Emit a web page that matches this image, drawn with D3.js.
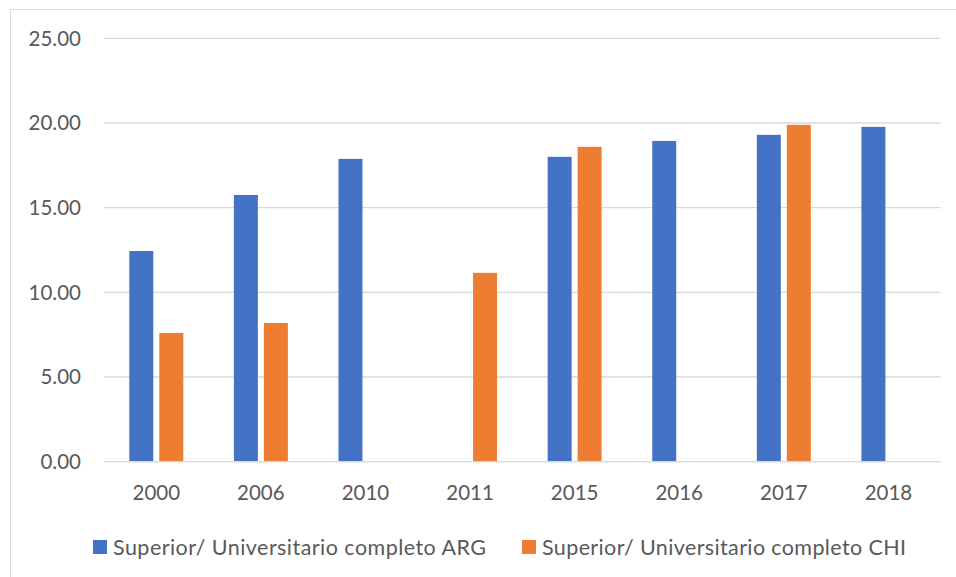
<!DOCTYPE html>
<html>
<head>
<meta charset="utf-8">
<script src="https://cdn.jsdelivr.net/npm/d3@7"></script>
<style>
  html, body { margin: 0; padding: 0; background: #fff; }
  svg { display: block; font-family: Lato, "Open Sans", sans-serif; }
</style>
</head>
<body>
<div id="chart"></div>
<script>
"use strict";

// categories (years)
const years = ["2000", "2006", "2010", "2011", "2015", "2016", "2017", "2018"];

// series values, null where there is no bar
const argValues = [12.44, 15.75, 17.88, null, 18.00, 18.94, 19.30, 19.77];
const chiValues = [7.60, 8.19, null, 11.15, 18.59, null, 19.89, null];

// series names
const seriesNames = ["Superior/ Universitario completo ARG", "Superior/ Universitario completo CHI"];
const seriesColors = ["#4472C4", "#ED7D31"];

// y axis ticks
const yTicks = [0, 5, 10, 15, 20, 25];

const width = 956, height = 577;
const margin = {left: 104, right: 15.3, top: 38.3, bottom: 115.3};

const svg = d3.select("#chart").append("svg")
    .attr("width", width)
    .attr("height", height);

// chart area border (only top and left show in the frame)
svg.append("rect")
    .attr("x", 10.5).attr("y", 9.5)
    .attr("width", 960).attr("height", 600)
    .attr("fill", "none")
    .attr("stroke", "#D9D9D9")
    .attr("stroke-width", 1);

const x0 = d3.scaleBand()
    .domain(years)
    .range([margin.left, width - margin.right]);

const groupW = x0.bandwidth() * 0.516;
const x1 = d3.scaleBand()
    .domain([0, 1])
    .range([0, groupW])
    .paddingInner(0.2);

const y = d3.scaleLinear()
    .domain([0, 25])
    .range([height - margin.bottom, margin.top]);

// gridlines
svg.append("g")
    .selectAll("line")
    .data(yTicks)
    .enter()
    .append("line")
    .attr("x1", margin.left)
    .attr("x2", width - margin.right)
    .attr("y1", d => y(d))
    .attr("y2", d => y(d))
    .attr("stroke", "#D9D9D9")
    .attr("stroke-width", 1.3);

// y labels
svg.append("g")
    .selectAll("text")
    .data(yTicks)
    .enter()
    .append("text")
    .attr("x", 81)
    .attr("y", d => y(d))
    .attr("dy", "0.36em")
    .attr("text-anchor", "end")
    .attr("fill", "#595959")
    .attr("font-size", "20.5px")
    .text(d => d3.format(".2f")(d));

// bars
const rows = years.map((yr, i) => ({year: yr, vals: [argValues[i], chiValues[i]]}));

const groups = svg.append("g")
    .selectAll("g")
    .data(rows)
    .enter()
    .append("g")
    .attr("transform", d => "translate(" + (x0(d.year) + (x0.bandwidth() - groupW) / 2) + ",0)");

groups.selectAll("rect")
    .data(d => d.vals.map((v, k) => ({k: k, v: v})).filter(e => e.v !== null))
    .enter()
    .append("rect")
    .attr("x", d => x1(d.k))
    .attr("width", x1.bandwidth())
    .attr("y", d => y(d.v))
    .attr("height", d => y(0) - y(d.v))
    .attr("fill", d => seriesColors[d.k]);

// redraw baseline on top of bars
svg.append("line")
    .attr("x1", margin.left)
    .attr("x2", width - margin.right)
    .attr("y1", y(0))
    .attr("y2", y(0))
    .attr("stroke", "#D9D9D9")
    .attr("stroke-width", 1.3);

// x labels
svg.append("g")
    .selectAll("text")
    .data(years)
    .enter()
    .append("text")
    .attr("x", d => x0(d) + x0.bandwidth() / 2)
    .attr("y", 493)
    .attr("dy", "0.36em")
    .attr("text-anchor", "middle")
    .attr("fill", "#595959")
    .attr("font-size", "20.5px")
    .text(d => d);

// legend
const legendX = [93, 522];
const legendLen = [373, 364];
const legend = svg.append("g")
    .selectAll("g")
    .data(seriesNames)
    .enter()
    .append("g")
    .attr("transform", (d, i) => "translate(" + legendX[i] + ",547)");

legend.append("rect")
    .attr("x", 0)
    .attr("y", -7)
    .attr("width", 14)
    .attr("height", 14)
    .attr("fill", (d, i) => seriesColors[i]);

legend.append("text")
    .attr("x", 20)
    .attr("y", 0)
    .attr("dy", "0.36em")
    .attr("fill", "#595959")
    .attr("font-size", "21.5px")
    .attr("textLength", (d, i) => legendLen[i])
    .attr("lengthAdjust", "spacing")
    .text(d => d);
</script>
</body>
</html>
